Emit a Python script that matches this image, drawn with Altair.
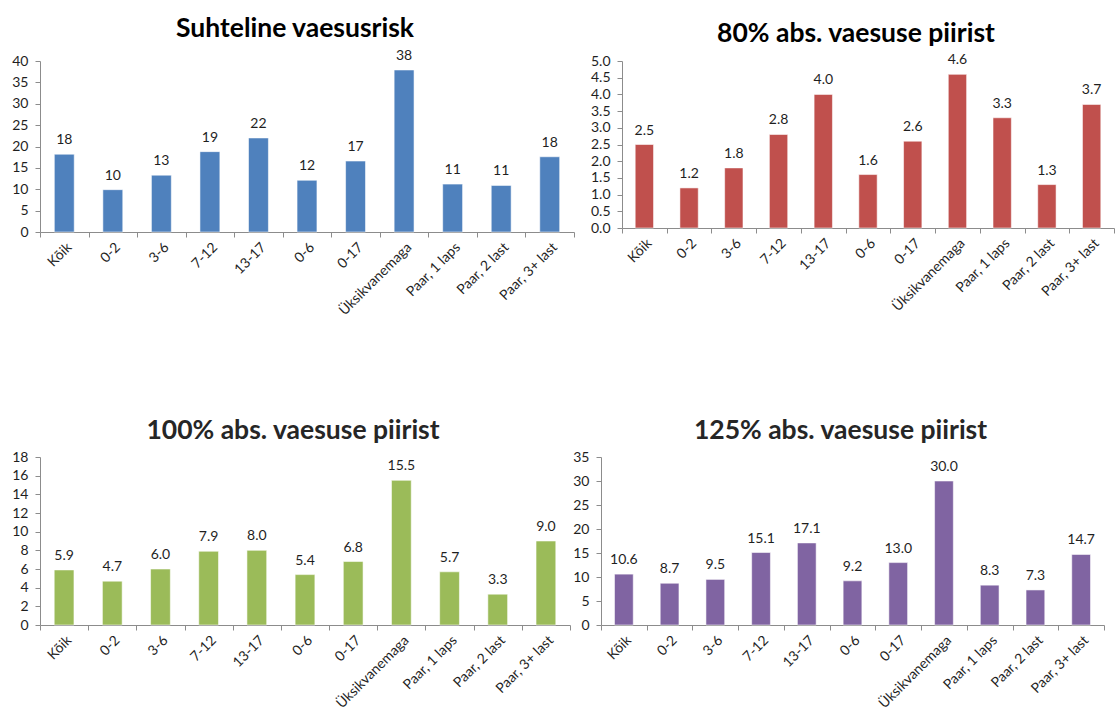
import altair as alt
import pandas as pd

# Household groups shown on every panel
categories = [
    "Kõik", "0-2", "3-6", "7-12", "13-17", "0-6", "0-17",
    "Üksikvanemaga", "Paar, 1 laps", "Paar, 2 last", "Paar, 3+ last",
]

# Relative poverty risk, %
relative_risk = [18.2, 9.9, 13.3, 18.8, 22.0, 12.1, 16.6, 37.9, 11.2, 10.9, 17.6]
# Share below 80 %, 100 % and 125 % of the absolute poverty line, %
abs_80 = [2.5, 1.2, 1.8, 2.8, 4.0, 1.6, 2.6, 4.6, 3.3, 1.3, 3.7]
abs_100 = [5.9, 4.7, 6.0, 7.9, 8.0, 5.4, 6.8, 15.5, 5.7, 3.3, 9.0]
abs_125 = [10.6, 8.7, 9.5, 15.1, 17.1, 9.2, 13.0, 30.0, 8.3, 7.3, 14.7]

# y-axis tick values per panel
ticks_relative = [0, 5, 10, 15, 20, 25, 30, 35, 40]
ticks_80 = [0.0, 0.5, 1.0, 1.5, 2.0, 2.5, 3.0, 3.5, 4.0, 4.5, 5.0]
ticks_100 = [0, 2, 4, 6, 8, 10, 12, 14, 16, 18]
ticks_125 = [0, 5, 10, 15, 20, 25, 30, 35]

FONT = "Lato"
AXIS_GREY = "#8c8c8c"
TEXT = "#1f1f1f"


def panel(values, title, color, ticks, label_fmt, axis_fmt, width, height, title_color):
    df = pd.DataFrame({"grupp": categories, "väärtus": values})
    base = alt.Chart(df).encode(
        x=alt.X(
            "grupp:N",
            sort=categories,
            scale=alt.Scale(paddingInner=0, paddingOuter=0),
            axis=alt.Axis(
                title=None,
                labelAngle=-45,
                labelAlign="right",
                labelBaseline="top",
                labelPadding=3,
                labelFontSize=14,
                tickBand="extent",
                tickSize=5,
            ),
        ),
        y=alt.Y(
            "väärtus:Q",
            scale=alt.Scale(domain=[ticks[0], ticks[-1]], nice=False),
            axis=alt.Axis(
                title=None,
                values=ticks,
                format=axis_fmt,
                grid=False,
                tickSize=5,
                labelPadding=7,
            ),
        ),
    )
    bars = base.mark_bar(
        color=color,
        width=alt.RelativeBandSize(0.41),
        stroke="#ffffff",
        strokeOpacity=0.55,
        strokeWidth=1,
    )
    labels = base.mark_text(
        baseline="alphabetic", dy=-10, font=FONT, fontSize=14, color=TEXT
    ).encode(text=alt.Text("väärtus:Q", format=label_fmt))
    return alt.layer(bars, labels).properties(
        width=width,
        height=height,
        title=alt.TitleParams(
            text=title,
            font=FONT,
            fontSize=26.5,
            fontWeight="bold",
            color=title_color,
            anchor="middle",
            frame="group",
            dx=-12,
            offset=6,
        ),
    )


top_left = panel(relative_risk, "Suhteline vaesusrisk", "#4F81BD",
                 ticks_relative, ".0f", "d", 534, 171, "#000000")
top_right = panel(abs_80, "80% abs. vaesuse piirist", "#C0504D",
                  ticks_80, ".1f", ".1f", 492, 167, "#000000")
bottom_left = panel(abs_100, "100% abs. vaesuse piirist", "#9BBB59",
                    ticks_100, ".1f", "d", 530, 168, "#262626")
bottom_right = panel(abs_125, "125% abs. vaesuse piirist", "#8064A2",
                     ticks_125, ".1f", "d", 503, 168, "#262626")

chart = alt.vconcat(
    alt.hconcat(top_left, top_right, spacing=48, bounds="flush"),
    alt.hconcat(bottom_left, bottom_right, spacing=31, bounds="flush"),
    spacing=99,
).properties(
    padding={"left": 11, "top": 16, "right": 0, "bottom": 0},
    background="#ffffff",
).configure_view(
    stroke=None
).configure_axis(
    domainColor=AXIS_GREY,
    tickColor=AXIS_GREY,
    labelFont=FONT,
    labelFontSize=14,
    labelColor=TEXT,
)

chart.save("out.html", embed_options={"renderer": "svg", "actions": False})
